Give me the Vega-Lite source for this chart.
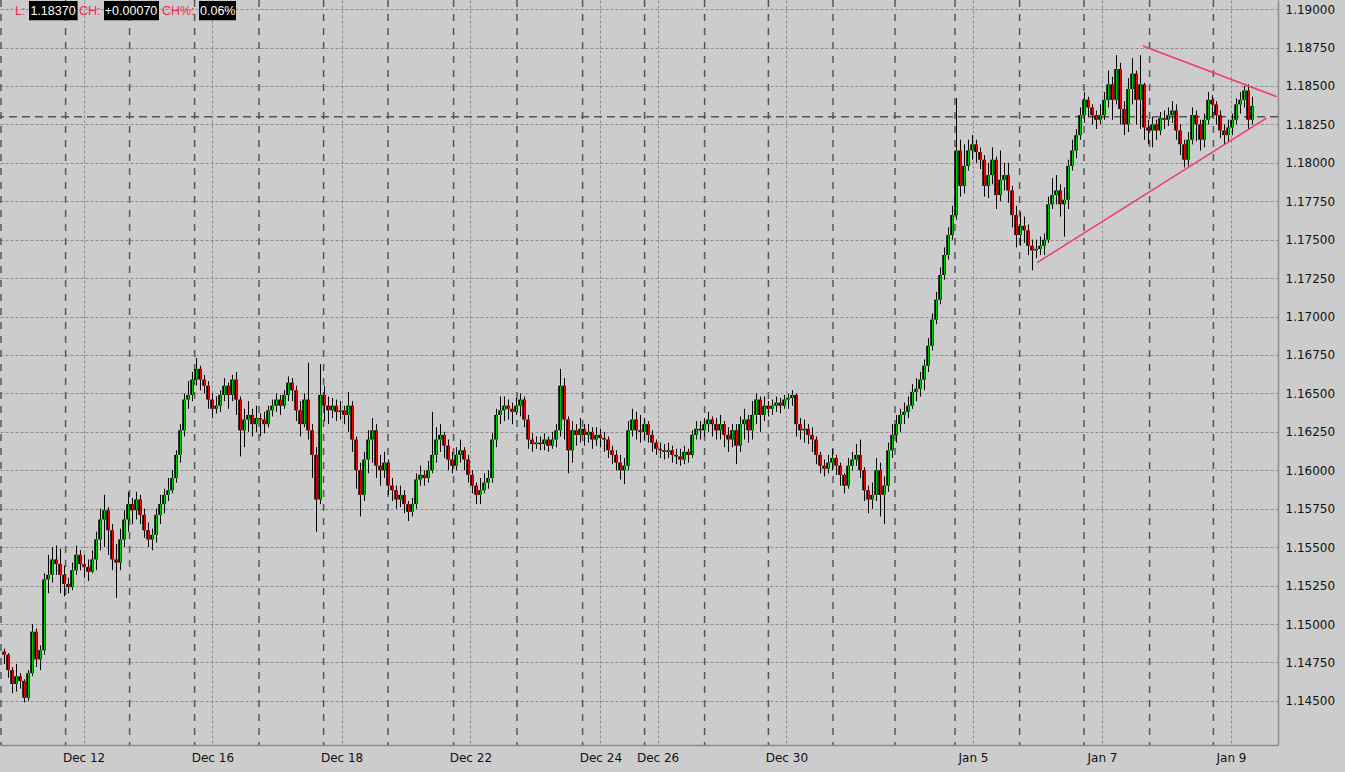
{
"$schema":"https://vega.github.io/schema/vega-lite/v6.json",
"width":1278,"height":745,
"autosize":{"type":"none"},
"padding":{"left":0,"top":0,"right":67,"bottom":27},
"background":"#cccccc",
"resolve":{"axis":{"x":"independent","y":"independent"}},
"config":{"view":{"stroke":null,"fill":"#cccccc"},"axis":{"labelFont":"DejaVu Sans","labelFontSize":12,"labelColor":"#111111","domainColor":"#8a8a8a","domainWidth":1.5,"gridColor":"#8c8c8c","gridDash":[3,2],"gridWidth":1,"ticks":false}},
"datasets":{
"vgrid":[{"i":0.25},{"i":16.4},{"i":32.4},{"i":48.65},{"i":64.75},{"i":80.9},{"i":97},{"i":113.4},{"i":129.25},{"i":145.65},{"i":161.15},{"i":176.15},{"i":192.1},{"i":208.25},{"i":223.75},{"i":238.75},{"i":254.9},{"i":271},{"i":287.4},{"i":303.35}],
"trend":[{"seg":"lo","i":259.25,"p":1.1735},{"seg":"lo","i":316.6,"p":1.1829},{"seg":"hi","i":285.75,"p":1.1876},{"seg":"hi","i":319.2,"p":1.1843}],
"bars":[
{"i":1,"o":1.1482,"h":1.1484,"l":1.1474,"c":1.1480},
{"i":2,"o":1.1480,"h":1.1481,"l":1.1465,"c":1.1470},
{"i":3,"o":1.1470,"h":1.1472,"l":1.1455,"c":1.1461},
{"i":4,"o":1.1461,"h":1.1474,"l":1.1456,"c":1.1466},
{"i":5,"o":1.1466,"h":1.1468,"l":1.1458,"c":1.1463},
{"i":6,"o":1.1463,"h":1.1464,"l":1.1449,"c":1.1452},
{"i":7,"o":1.1452,"h":1.1470,"l":1.1450,"c":1.1468},
{"i":8,"o":1.1468,"h":1.1500,"l":1.1466,"c":1.1495},
{"i":9,"o":1.1495,"h":1.1497,"l":1.1472,"c":1.1477},
{"i":10,"o":1.1477,"h":1.1486,"l":1.1470,"c":1.1483},
{"i":11,"o":1.1483,"h":1.1533,"l":1.1480,"c":1.1529},
{"i":12,"o":1.1529,"h":1.1545,"l":1.1520,"c":1.1532},
{"i":13,"o":1.1532,"h":1.1550,"l":1.1527,"c":1.1542},
{"i":14,"o":1.1542,"h":1.1551,"l":1.1532,"c":1.1539},
{"i":15,"o":1.1539,"h":1.1549,"l":1.1520,"c":1.1532},
{"i":16,"o":1.1532,"h":1.1538,"l":1.1518,"c":1.1526},
{"i":17,"o":1.1526,"h":1.1530,"l":1.1520,"c":1.1524},
{"i":18,"o":1.1524,"h":1.1540,"l":1.1522,"c":1.1535},
{"i":19,"o":1.1535,"h":1.1551,"l":1.1532,"c":1.1545},
{"i":20,"o":1.1545,"h":1.1548,"l":1.1535,"c":1.1539},
{"i":21,"o":1.1539,"h":1.1545,"l":1.1530,"c":1.1537},
{"i":22,"o":1.1537,"h":1.1542,"l":1.1528,"c":1.1534},
{"i":23,"o":1.1534,"h":1.1548,"l":1.1533,"c":1.1542},
{"i":24,"o":1.1542,"h":1.1560,"l":1.1535,"c":1.1555},
{"i":25,"o":1.1555,"h":1.1575,"l":1.1548,"c":1.1568},
{"i":26,"o":1.1568,"h":1.1584,"l":1.1550,"c":1.1574},
{"i":27,"o":1.1574,"h":1.1576,"l":1.1545,"c":1.1561},
{"i":28,"o":1.1561,"h":1.1565,"l":1.1535,"c":1.1542},
{"i":29,"o":1.1542,"h":1.1552,"l":1.1517,"c":1.1540},
{"i":30,"o":1.1540,"h":1.1562,"l":1.1535,"c":1.1555},
{"i":31,"o":1.1555,"h":1.1574,"l":1.1550,"c":1.1568},
{"i":32,"o":1.1568,"h":1.1586,"l":1.1560,"c":1.1578},
{"i":33,"o":1.1578,"h":1.1582,"l":1.1565,"c":1.1574},
{"i":34,"o":1.1574,"h":1.1586,"l":1.1568,"c":1.1581},
{"i":35,"o":1.1581,"h":1.1584,"l":1.1565,"c":1.1571},
{"i":36,"o":1.1571,"h":1.1575,"l":1.1556,"c":1.1561},
{"i":37,"o":1.1561,"h":1.1566,"l":1.1550,"c":1.1555},
{"i":38,"o":1.1555,"h":1.1562,"l":1.1548,"c":1.1558},
{"i":39,"o":1.1558,"h":1.1575,"l":1.1553,"c":1.1571},
{"i":40,"o":1.1571,"h":1.1584,"l":1.1565,"c":1.1578},
{"i":41,"o":1.1578,"h":1.1588,"l":1.1572,"c":1.1584},
{"i":42,"o":1.1584,"h":1.1595,"l":1.1580,"c":1.1587},
{"i":43,"o":1.1587,"h":1.1600,"l":1.1585,"c":1.1595},
{"i":44,"o":1.1595,"h":1.1613,"l":1.1592,"c":1.1610},
{"i":45,"o":1.1610,"h":1.1630,"l":1.1605,"c":1.1626},
{"i":46,"o":1.1626,"h":1.1650,"l":1.1622,"c":1.1646},
{"i":47,"o":1.1646,"h":1.1658,"l":1.1640,"c":1.1649},
{"i":48,"o":1.1649,"h":1.1664,"l":1.1645,"c":1.1659},
{"i":49,"o":1.1659,"h":1.1673,"l":1.1655,"c":1.1666},
{"i":50,"o":1.1666,"h":1.1668,"l":1.1652,"c":1.1659},
{"i":51,"o":1.1659,"h":1.1662,"l":1.1650,"c":1.1655},
{"i":52,"o":1.1655,"h":1.1658,"l":1.1640,"c":1.1646},
{"i":53,"o":1.1646,"h":1.1650,"l":1.1634,"c":1.1640},
{"i":54,"o":1.1640,"h":1.1648,"l":1.1637,"c":1.1642},
{"i":55,"o":1.1642,"h":1.1652,"l":1.1638,"c":1.1649},
{"i":56,"o":1.1649,"h":1.1660,"l":1.1645,"c":1.1655},
{"i":57,"o":1.1655,"h":1.1657,"l":1.1640,"c":1.1649},
{"i":58,"o":1.1649,"h":1.1662,"l":1.1645,"c":1.1659},
{"i":59,"o":1.1659,"h":1.1664,"l":1.1636,"c":1.1646},
{"i":60,"o":1.1646,"h":1.1648,"l":1.1609,"c":1.1626},
{"i":61,"o":1.1626,"h":1.1640,"l":1.1615,"c":1.1633},
{"i":62,"o":1.1633,"h":1.1645,"l":1.1625,"c":1.1636},
{"i":63,"o":1.1636,"h":1.1640,"l":1.1622,"c":1.1630},
{"i":64,"o":1.1630,"h":1.1642,"l":1.1625,"c":1.1634},
{"i":65,"o":1.1634,"h":1.1637,"l":1.1622,"c":1.1633},
{"i":66,"o":1.1633,"h":1.1638,"l":1.1624,"c":1.1630},
{"i":67,"o":1.1630,"h":1.1642,"l":1.1628,"c":1.1639},
{"i":68,"o":1.1639,"h":1.1646,"l":1.1635,"c":1.1642},
{"i":69,"o":1.1642,"h":1.1650,"l":1.1638,"c":1.1646},
{"i":70,"o":1.1646,"h":1.1649,"l":1.1636,"c":1.1642},
{"i":71,"o":1.1642,"h":1.1652,"l":1.1640,"c":1.1649},
{"i":72,"o":1.1649,"h":1.1661,"l":1.1645,"c":1.1657},
{"i":73,"o":1.1657,"h":1.1660,"l":1.1645,"c":1.1652},
{"i":74,"o":1.1652,"h":1.1655,"l":1.1632,"c":1.1639},
{"i":75,"o":1.1639,"h":1.1645,"l":1.1622,"c":1.1630},
{"i":76,"o":1.1630,"h":1.1650,"l":1.1628,"c":1.1646},
{"i":77,"o":1.1646,"h":1.1670,"l":1.1620,"c":1.1626},
{"i":78,"o":1.1626,"h":1.1630,"l":1.1595,"c":1.1610},
{"i":79,"o":1.1610,"h":1.1615,"l":1.1560,"c":1.1581},
{"i":80,"o":1.1581,"h":1.1669,"l":1.1578,"c":1.1649},
{"i":81,"o":1.1649,"h":1.1655,"l":1.1632,"c":1.1642},
{"i":82,"o":1.1642,"h":1.1648,"l":1.1630,"c":1.1639},
{"i":83,"o":1.1639,"h":1.1647,"l":1.1634,"c":1.1642},
{"i":84,"o":1.1642,"h":1.1646,"l":1.1632,"c":1.1638},
{"i":85,"o":1.1638,"h":1.1645,"l":1.1633,"c":1.1639},
{"i":86,"o":1.1639,"h":1.1642,"l":1.1630,"c":1.1636},
{"i":87,"o":1.1636,"h":1.1651,"l":1.1625,"c":1.1642},
{"i":88,"o":1.1642,"h":1.1645,"l":1.1612,"c":1.1620},
{"i":89,"o":1.1620,"h":1.1622,"l":1.1588,"c":1.1600},
{"i":90,"o":1.1600,"h":1.1605,"l":1.1570,"c":1.1584},
{"i":91,"o":1.1584,"h":1.1612,"l":1.1580,"c":1.1607},
{"i":92,"o":1.1607,"h":1.1626,"l":1.1598,"c":1.1620},
{"i":93,"o":1.1620,"h":1.1634,"l":1.1605,"c":1.1626},
{"i":94,"o":1.1626,"h":1.1630,"l":1.1595,"c":1.1603},
{"i":95,"o":1.1603,"h":1.1610,"l":1.1590,"c":1.1600},
{"i":96,"o":1.1600,"h":1.1612,"l":1.1595,"c":1.1605},
{"i":97,"o":1.1605,"h":1.1607,"l":1.1584,"c":1.1590},
{"i":98,"o":1.1590,"h":1.1595,"l":1.1580,"c":1.1587},
{"i":99,"o":1.1587,"h":1.1590,"l":1.1575,"c":1.1581},
{"i":100,"o":1.1581,"h":1.1590,"l":1.1576,"c":1.1584},
{"i":101,"o":1.1584,"h":1.1587,"l":1.1572,"c":1.1578},
{"i":102,"o":1.1578,"h":1.1580,"l":1.1567,"c":1.1573},
{"i":103,"o":1.1573,"h":1.1582,"l":1.1570,"c":1.1578},
{"i":104,"o":1.1578,"h":1.1598,"l":1.1575,"c":1.1594},
{"i":105,"o":1.1594,"h":1.1603,"l":1.1590,"c":1.1597},
{"i":106,"o":1.1597,"h":1.1600,"l":1.1590,"c":1.1595},
{"i":107,"o":1.1595,"h":1.1606,"l":1.1592,"c":1.1600},
{"i":108,"o":1.1600,"h":1.1638,"l":1.1598,"c":1.1610},
{"i":109,"o":1.1610,"h":1.1628,"l":1.1605,"c":1.1620},
{"i":110,"o":1.1620,"h":1.1630,"l":1.1612,"c":1.1623},
{"i":111,"o":1.1623,"h":1.1625,"l":1.1608,"c":1.1616},
{"i":112,"o":1.1616,"h":1.1620,"l":1.1600,"c":1.1607},
{"i":113,"o":1.1607,"h":1.1612,"l":1.1598,"c":1.1603},
{"i":114,"o":1.1603,"h":1.1615,"l":1.1600,"c":1.1610},
{"i":115,"o":1.1610,"h":1.1620,"l":1.1605,"c":1.1613},
{"i":116,"o":1.1613,"h":1.1615,"l":1.1600,"c":1.1607},
{"i":117,"o":1.1607,"h":1.1610,"l":1.1592,"c":1.1597},
{"i":118,"o":1.1597,"h":1.1600,"l":1.1585,"c":1.1590},
{"i":119,"o":1.1590,"h":1.1592,"l":1.1578,"c":1.1584},
{"i":120,"o":1.1584,"h":1.1595,"l":1.1578,"c":1.1587},
{"i":121,"o":1.1587,"h":1.1598,"l":1.1585,"c":1.1592},
{"i":122,"o":1.1592,"h":1.1600,"l":1.1588,"c":1.1595},
{"i":123,"o":1.1595,"h":1.1624,"l":1.1592,"c":1.1620},
{"i":124,"o":1.1620,"h":1.1640,"l":1.1615,"c":1.1636},
{"i":125,"o":1.1636,"h":1.1648,"l":1.1630,"c":1.1639},
{"i":126,"o":1.1639,"h":1.1648,"l":1.1632,"c":1.1642},
{"i":127,"o":1.1642,"h":1.1646,"l":1.1633,"c":1.1640},
{"i":128,"o":1.1640,"h":1.1644,"l":1.1630,"c":1.1638},
{"i":129,"o":1.1638,"h":1.1647,"l":1.1636,"c":1.1642},
{"i":130,"o":1.1642,"h":1.1650,"l":1.1635,"c":1.1646},
{"i":131,"o":1.1646,"h":1.1648,"l":1.1628,"c":1.1633},
{"i":132,"o":1.1633,"h":1.1636,"l":1.1614,"c":1.1620},
{"i":133,"o":1.1620,"h":1.1624,"l":1.1612,"c":1.1617},
{"i":134,"o":1.1617,"h":1.1622,"l":1.1614,"c":1.1618},
{"i":135,"o":1.1618,"h":1.1622,"l":1.1613,"c":1.1617},
{"i":136,"o":1.1617,"h":1.1624,"l":1.1613,"c":1.1620},
{"i":137,"o":1.1620,"h":1.1622,"l":1.1612,"c":1.1616},
{"i":138,"o":1.1616,"h":1.1625,"l":1.1614,"c":1.1620},
{"i":139,"o":1.1620,"h":1.1630,"l":1.1615,"c":1.1626},
{"i":140,"o":1.1626,"h":1.1666,"l":1.1622,"c":1.1655},
{"i":141,"o":1.1655,"h":1.1660,"l":1.1620,"c":1.1633},
{"i":142,"o":1.1633,"h":1.1635,"l":1.1598,"c":1.1613},
{"i":143,"o":1.1613,"h":1.1632,"l":1.1605,"c":1.1626},
{"i":144,"o":1.1626,"h":1.1630,"l":1.1616,"c":1.1623},
{"i":145,"o":1.1623,"h":1.1634,"l":1.1618,"c":1.1627},
{"i":146,"o":1.1627,"h":1.1630,"l":1.1616,"c":1.1623},
{"i":147,"o":1.1623,"h":1.1630,"l":1.1618,"c":1.1625},
{"i":148,"o":1.1625,"h":1.1628,"l":1.1614,"c":1.1620},
{"i":149,"o":1.1620,"h":1.1628,"l":1.1616,"c":1.1623},
{"i":150,"o":1.1623,"h":1.1627,"l":1.1615,"c":1.1621},
{"i":151,"o":1.1621,"h":1.1625,"l":1.1612,"c":1.1620},
{"i":152,"o":1.1620,"h":1.1622,"l":1.1608,"c":1.1613},
{"i":153,"o":1.1613,"h":1.1616,"l":1.1604,"c":1.1610},
{"i":154,"o":1.1610,"h":1.1613,"l":1.1600,"c":1.1605},
{"i":155,"o":1.1605,"h":1.1610,"l":1.1594,"c":1.1600},
{"i":156,"o":1.1600,"h":1.1608,"l":1.1591,"c":1.1603},
{"i":157,"o":1.1603,"h":1.1632,"l":1.1600,"c":1.1626},
{"i":158,"o":1.1626,"h":1.1640,"l":1.1622,"c":1.1633},
{"i":159,"o":1.1633,"h":1.1638,"l":1.1620,"c":1.1626},
{"i":160,"o":1.1626,"h":1.1636,"l":1.1618,"c":1.1625},
{"i":161,"o":1.1625,"h":1.1634,"l":1.1620,"c":1.1630},
{"i":162,"o":1.1630,"h":1.1632,"l":1.1618,"c":1.1623},
{"i":163,"o":1.1623,"h":1.1626,"l":1.1612,"c":1.1618},
{"i":164,"o":1.1618,"h":1.1620,"l":1.1610,"c":1.1614},
{"i":165,"o":1.1614,"h":1.1618,"l":1.1608,"c":1.1613},
{"i":166,"o":1.1613,"h":1.1617,"l":1.1607,"c":1.1612},
{"i":167,"o":1.1612,"h":1.1618,"l":1.1608,"c":1.1613},
{"i":168,"o":1.1613,"h":1.1616,"l":1.1605,"c":1.1610},
{"i":169,"o":1.1610,"h":1.1614,"l":1.1604,"c":1.1609},
{"i":170,"o":1.1609,"h":1.1614,"l":1.1603,"c":1.1607},
{"i":171,"o":1.1607,"h":1.1616,"l":1.1604,"c":1.1612},
{"i":172,"o":1.1612,"h":1.1614,"l":1.1605,"c":1.1610},
{"i":173,"o":1.1610,"h":1.1626,"l":1.1608,"c":1.1623},
{"i":174,"o":1.1623,"h":1.1632,"l":1.1620,"c":1.1627},
{"i":175,"o":1.1627,"h":1.1632,"l":1.1620,"c":1.1626},
{"i":176,"o":1.1626,"h":1.1634,"l":1.1622,"c":1.1630},
{"i":177,"o":1.1630,"h":1.1638,"l":1.1625,"c":1.1633},
{"i":178,"o":1.1633,"h":1.1635,"l":1.1622,"c":1.1630},
{"i":179,"o":1.1630,"h":1.1634,"l":1.1620,"c":1.1626},
{"i":180,"o":1.1626,"h":1.1636,"l":1.1620,"c":1.1630},
{"i":181,"o":1.1630,"h":1.1632,"l":1.1615,"c":1.1623},
{"i":182,"o":1.1623,"h":1.1628,"l":1.1612,"c":1.1620},
{"i":183,"o":1.1620,"h":1.1630,"l":1.1615,"c":1.1626},
{"i":184,"o":1.1626,"h":1.1630,"l":1.1604,"c":1.1616},
{"i":185,"o":1.1616,"h":1.1635,"l":1.1612,"c":1.1630},
{"i":186,"o":1.1630,"h":1.1640,"l":1.1620,"c":1.1633},
{"i":187,"o":1.1633,"h":1.1636,"l":1.1618,"c":1.1626},
{"i":188,"o":1.1626,"h":1.1645,"l":1.1620,"c":1.1636},
{"i":189,"o":1.1636,"h":1.1650,"l":1.1630,"c":1.1646},
{"i":190,"o":1.1646,"h":1.1648,"l":1.1625,"c":1.1636},
{"i":191,"o":1.1636,"h":1.1648,"l":1.1632,"c":1.1642},
{"i":192,"o":1.1642,"h":1.1645,"l":1.1635,"c":1.1640},
{"i":193,"o":1.1640,"h":1.1646,"l":1.1636,"c":1.1642},
{"i":194,"o":1.1642,"h":1.1648,"l":1.1638,"c":1.1644},
{"i":195,"o":1.1644,"h":1.1647,"l":1.1637,"c":1.1642},
{"i":196,"o":1.1642,"h":1.1649,"l":1.1640,"c":1.1646},
{"i":197,"o":1.1646,"h":1.1650,"l":1.1640,"c":1.1647},
{"i":198,"o":1.1647,"h":1.1652,"l":1.1642,"c":1.1649},
{"i":199,"o":1.1649,"h":1.1650,"l":1.1622,"c":1.1630},
{"i":200,"o":1.1630,"h":1.1634,"l":1.1620,"c":1.1626},
{"i":201,"o":1.1626,"h":1.1633,"l":1.1618,"c":1.1627},
{"i":202,"o":1.1627,"h":1.1630,"l":1.1617,"c":1.1623},
{"i":203,"o":1.1623,"h":1.1628,"l":1.1612,"c":1.1620},
{"i":204,"o":1.1620,"h":1.1622,"l":1.1604,"c":1.1610},
{"i":205,"o":1.1610,"h":1.1612,"l":1.1598,"c":1.1603},
{"i":206,"o":1.1603,"h":1.1607,"l":1.1596,"c":1.1601},
{"i":207,"o":1.1601,"h":1.1610,"l":1.1598,"c":1.1605},
{"i":208,"o":1.1605,"h":1.1614,"l":1.1600,"c":1.1608},
{"i":209,"o":1.1608,"h":1.1610,"l":1.1597,"c":1.1603},
{"i":210,"o":1.1603,"h":1.1605,"l":1.1590,"c":1.1597},
{"i":211,"o":1.1597,"h":1.1598,"l":1.1585,"c":1.1590},
{"i":212,"o":1.1590,"h":1.1608,"l":1.1588,"c":1.1603},
{"i":213,"o":1.1603,"h":1.1612,"l":1.1600,"c":1.1607},
{"i":214,"o":1.1607,"h":1.1617,"l":1.1603,"c":1.1610},
{"i":215,"o":1.1610,"h":1.1620,"l":1.1595,"c":1.1600},
{"i":216,"o":1.1600,"h":1.1602,"l":1.1580,"c":1.1587},
{"i":217,"o":1.1587,"h":1.1590,"l":1.1572,"c":1.1581},
{"i":218,"o":1.1581,"h":1.1592,"l":1.1575,"c":1.1584},
{"i":219,"o":1.1584,"h":1.1608,"l":1.1580,"c":1.1600},
{"i":220,"o":1.1600,"h":1.1605,"l":1.1570,"c":1.1584},
{"i":221,"o":1.1584,"h":1.1596,"l":1.1565,"c":1.1590},
{"i":222,"o":1.1590,"h":1.1618,"l":1.1586,"c":1.1613},
{"i":223,"o":1.1613,"h":1.1630,"l":1.1608,"c":1.1623},
{"i":224,"o":1.1623,"h":1.1636,"l":1.1618,"c":1.1630},
{"i":225,"o":1.1630,"h":1.1640,"l":1.1625,"c":1.1636},
{"i":226,"o":1.1636,"h":1.1644,"l":1.1630,"c":1.1638},
{"i":227,"o":1.1638,"h":1.1648,"l":1.1634,"c":1.1642},
{"i":228,"o":1.1642,"h":1.1656,"l":1.1640,"c":1.1651},
{"i":229,"o":1.1651,"h":1.1660,"l":1.1645,"c":1.1653},
{"i":230,"o":1.1653,"h":1.1664,"l":1.1648,"c":1.1659},
{"i":231,"o":1.1659,"h":1.1672,"l":1.1652,"c":1.1668},
{"i":232,"o":1.1668,"h":1.1686,"l":1.1664,"c":1.1681},
{"i":233,"o":1.1681,"h":1.1702,"l":1.1678,"c":1.1698},
{"i":234,"o":1.1698,"h":1.1716,"l":1.1695,"c":1.1711},
{"i":235,"o":1.1711,"h":1.1732,"l":1.1708,"c":1.1727},
{"i":236,"o":1.1727,"h":1.1745,"l":1.1724,"c":1.1740},
{"i":237,"o":1.1740,"h":1.1758,"l":1.1737,"c":1.1753},
{"i":238,"o":1.1753,"h":1.1772,"l":1.1750,"c":1.1766},
{"i":239,"o":1.1766,"h":1.1842,"l":1.1763,"c":1.1808},
{"i":240,"o":1.1808,"h":1.1815,"l":1.1778,"c":1.1785},
{"i":241,"o":1.1785,"h":1.1812,"l":1.1780,"c":1.1798},
{"i":242,"o":1.1798,"h":1.1815,"l":1.1795,"c":1.1808},
{"i":243,"o":1.1808,"h":1.1818,"l":1.1802,"c":1.1812},
{"i":244,"o":1.1812,"h":1.1815,"l":1.1800,"c":1.1807},
{"i":245,"o":1.1807,"h":1.1810,"l":1.1796,"c":1.1802},
{"i":246,"o":1.1802,"h":1.1805,"l":1.1778,"c":1.1785},
{"i":247,"o":1.1785,"h":1.1800,"l":1.1777,"c":1.1792},
{"i":248,"o":1.1792,"h":1.1810,"l":1.1786,"c":1.1802},
{"i":249,"o":1.1802,"h":1.1804,"l":1.1770,"c":1.1779},
{"i":250,"o":1.1779,"h":1.1808,"l":1.1775,"c":1.1789},
{"i":251,"o":1.1789,"h":1.1800,"l":1.1782,"c":1.1792},
{"i":252,"o":1.1792,"h":1.1800,"l":1.1774,"c":1.1782},
{"i":253,"o":1.1782,"h":1.1785,"l":1.1758,"c":1.1766},
{"i":254,"o":1.1766,"h":1.1772,"l":1.1745,"c":1.1753},
{"i":255,"o":1.1753,"h":1.1768,"l":1.1746,"c":1.1759},
{"i":256,"o":1.1759,"h":1.1765,"l":1.1748,"c":1.1756},
{"i":257,"o":1.1756,"h":1.1760,"l":1.1740,"c":1.1746},
{"i":258,"o":1.1746,"h":1.1750,"l":1.1730,"c":1.1743},
{"i":259,"o":1.1743,"h":1.1750,"l":1.1738,"c":1.1744},
{"i":260,"o":1.1744,"h":1.1752,"l":1.1740,"c":1.1746},
{"i":261,"o":1.1746,"h":1.1754,"l":1.1740,"c":1.1750},
{"i":262,"o":1.1750,"h":1.1778,"l":1.1748,"c":1.1773},
{"i":263,"o":1.1773,"h":1.1790,"l":1.1770,"c":1.1779},
{"i":264,"o":1.1779,"h":1.1792,"l":1.1773,"c":1.1782},
{"i":265,"o":1.1782,"h":1.1786,"l":1.1765,"c":1.1773},
{"i":266,"o":1.1773,"h":1.1784,"l":1.1752,"c":1.1776},
{"i":267,"o":1.1776,"h":1.1802,"l":1.1770,"c":1.1798},
{"i":268,"o":1.1798,"h":1.1815,"l":1.1795,"c":1.1808},
{"i":269,"o":1.1808,"h":1.1822,"l":1.1803,"c":1.1818},
{"i":270,"o":1.1818,"h":1.1836,"l":1.1815,"c":1.1831},
{"i":271,"o":1.1831,"h":1.1846,"l":1.1826,"c":1.1841},
{"i":272,"o":1.1841,"h":1.1843,"l":1.1830,"c":1.1836},
{"i":273,"o":1.1836,"h":1.1838,"l":1.1825,"c":1.1831},
{"i":274,"o":1.1831,"h":1.1834,"l":1.1822,"c":1.1828},
{"i":275,"o":1.1828,"h":1.1838,"l":1.1825,"c":1.1831},
{"i":276,"o":1.1831,"h":1.1846,"l":1.1828,"c":1.1841},
{"i":277,"o":1.1841,"h":1.1860,"l":1.1836,"c":1.1851},
{"i":278,"o":1.1851,"h":1.1856,"l":1.1828,"c":1.1841},
{"i":279,"o":1.1841,"h":1.1870,"l":1.1838,"c":1.1861},
{"i":280,"o":1.1861,"h":1.1865,"l":1.1825,"c":1.1835},
{"i":281,"o":1.1835,"h":1.1840,"l":1.1818,"c":1.1825},
{"i":282,"o":1.1825,"h":1.1855,"l":1.1820,"c":1.1848},
{"i":283,"o":1.1848,"h":1.1868,"l":1.1838,"c":1.1858},
{"i":284,"o":1.1858,"h":1.1860,"l":1.1825,"c":1.1841},
{"i":285,"o":1.1841,"h":1.1870,"l":1.1822,"c":1.1851},
{"i":286,"o":1.1851,"h":1.1852,"l":1.1815,"c":1.1823},
{"i":287,"o":1.1823,"h":1.1828,"l":1.1812,"c":1.1821},
{"i":288,"o":1.1821,"h":1.1830,"l":1.1810,"c":1.1825},
{"i":289,"o":1.1825,"h":1.1828,"l":1.1815,"c":1.1821},
{"i":290,"o":1.1821,"h":1.1833,"l":1.1818,"c":1.1829},
{"i":291,"o":1.1829,"h":1.1834,"l":1.1822,"c":1.1828},
{"i":292,"o":1.1828,"h":1.1836,"l":1.1824,"c":1.1831},
{"i":293,"o":1.1831,"h":1.1840,"l":1.1826,"c":1.1834},
{"i":294,"o":1.1834,"h":1.1838,"l":1.1815,"c":1.1821},
{"i":295,"o":1.1821,"h":1.1825,"l":1.1805,"c":1.1812},
{"i":296,"o":1.1812,"h":1.1815,"l":1.1797,"c":1.1802},
{"i":297,"o":1.1802,"h":1.1820,"l":1.1798,"c":1.1815},
{"i":298,"o":1.1815,"h":1.1836,"l":1.1812,"c":1.1831},
{"i":299,"o":1.1831,"h":1.1834,"l":1.1814,"c":1.1825},
{"i":300,"o":1.1825,"h":1.1828,"l":1.1808,"c":1.1815},
{"i":301,"o":1.1815,"h":1.1832,"l":1.1810,"c":1.1828},
{"i":302,"o":1.1828,"h":1.1846,"l":1.1825,"c":1.1841},
{"i":303,"o":1.1841,"h":1.1844,"l":1.1830,"c":1.1838},
{"i":304,"o":1.1838,"h":1.1840,"l":1.1825,"c":1.1831},
{"i":305,"o":1.1831,"h":1.1834,"l":1.1816,"c":1.1821},
{"i":306,"o":1.1821,"h":1.1825,"l":1.1812,"c":1.1818},
{"i":307,"o":1.1818,"h":1.1828,"l":1.1814,"c":1.1823},
{"i":308,"o":1.1823,"h":1.1832,"l":1.1818,"c":1.1828},
{"i":309,"o":1.1828,"h":1.1842,"l":1.1825,"c":1.1838},
{"i":310,"o":1.1838,"h":1.1846,"l":1.1832,"c":1.1841},
{"i":311,"o":1.1841,"h":1.1850,"l":1.1836,"c":1.1847},
{"i":312,"o":1.1847,"h":1.1851,"l":1.1822,"c":1.1828},
{"i":313,"o":1.1828,"h":1.1843,"l":1.1825,"c":1.1837}
]},
"layer":[
{"data":{"name":"vgrid"},"mark":{"type":"rule","color":"#555555","strokeWidth":1.5,"strokeDash":[7,7]},
 "encoding":{"x":{"field":"i","type":"quantitative","scale":{"domain":[0,319.5],"nice":false,"zero":false,"padding":0},"axis":null}}},
{"data":{"values":[{"lvl":1.183}]},"mark":{"type":"rule","color":"#555555","strokeWidth":1.5,"strokeDash":[8,5]},
 "encoding":{"y":{"field":"lvl","type":"quantitative","scale":{"domain":[1.14213,1.19059],"nice":false,"zero":false},"axis":null}}},
{"data":{"name":"bars"},"mark":{"type":"rule","color":"#000000","strokeWidth":1,"xOffset":0.5},
 "encoding":{
  "x":{"field":"i","type":"quantitative","scale":{"domain":[0,319.5],"nice":false,"zero":false,"padding":0},
   "axis":{"orient":"bottom","title":null,"values":[20.9,53.1,85.4,117.6,150.1,164.4,196.6,243.25,275.5,307.75],
    "labelExpr":"{'20.9':'Dec 12','53.1':'Dec 16','85.4':'Dec 18','117.6':'Dec 22','150.1':'Dec 24','164.4':'Dec 26','196.6':'Dec 30','243.25':'Jan 5','275.5':'Jan 7','307.75':'Jan 9'}[datum.value]",
    "grid":true,"ticks":false,"labelPadding":7,"labelOverlap":false,"labelFlush":false}},
  "y":{"field":"l","type":"quantitative","scale":{"domain":[1.14213,1.19059],"nice":false,"zero":false},
   "axis":{"orient":"right","title":null,"values":[1.145,1.1475,1.15,1.1525,1.155,1.1575,1.16,1.1625,1.165,1.1675,1.17,1.1725,1.175,1.1775,1.18,1.1825,1.185,1.1875,1.19],
    "format":".5f","grid":true,"ticks":false,"labelPadding":7,"labelOverlap":false,"labelFlush":false}},
  "y2":{"field":"h"}}},
{"data":{"name":"bars"},"mark":{"type":"bar","width":3.5,"color":"#000000"},
 "encoding":{
  "x":{"field":"i","type":"quantitative","scale":{"domain":[0,319.5],"nice":false,"zero":false,"padding":0},"axis":null},
  "y":{"field":"o","type":"quantitative","scale":{"domain":[1.14213,1.19059],"nice":false,"zero":false},"axis":null},
  "y2":{"field":"c"}}},
{"data":{"name":"bars"},"mark":{"type":"rule","strokeWidth":1,"xOffset":0.5},
 "encoding":{
  "x":{"field":"i","type":"quantitative","scale":{"domain":[0,319.5],"nice":false,"zero":false,"padding":0},"axis":null},
  "y":{"field":"o","type":"quantitative","scale":{"domain":[1.14213,1.19059],"nice":false,"zero":false},"axis":null},
  "y2":{"field":"c"},
  "color":{"condition":{"test":"datum.c >= datum.o","value":"#00c800"},"value":"#f00000"}}},
{"data":{"name":"trend"},"mark":{"type":"line","color":"#f03c6a","strokeWidth":1.5},
 "encoding":{
  "x":{"field":"i","type":"quantitative","scale":{"domain":[0,319.5],"nice":false,"zero":false,"padding":0},"axis":null},
  "y":{"field":"p","type":"quantitative","scale":{"domain":[1.14213,1.19059],"nice":false,"zero":false},"axis":null},
  "detail":{"field":"seg"}}},
{"data":{"values":[{"t":"x"}]},"mark":{"type":"rect","color":"#000000"},
 "encoding":{"x":{"datum":7.25,"type":"quantitative","axis":null},"x2":{"datum":19.4},"y":{"datum":1.19052,"type":"quantitative","axis":null},"y2":{"datum":1.18928}}},
{"data":{"values":[{"t":"x"}]},"mark":{"type":"rect","color":"#000000"},
 "encoding":{"x":{"datum":26,"type":"quantitative","axis":null},"x2":{"datum":39.75},"y":{"datum":1.19052,"type":"quantitative","axis":null},"y2":{"datum":1.18928}}},
{"data":{"values":[{"t":"x"}]},"mark":{"type":"rect","color":"#000000"},
 "encoding":{"x":{"datum":49.75,"type":"quantitative","axis":null},"x2":{"datum":59},"y":{"datum":1.19052,"type":"quantitative","axis":null},"y2":{"datum":1.18928}}},
{"data":{"values":[{"t":"L:"}]},"mark":{"type":"text","align":"left","baseline":"middle","font":"Liberation Sans","fontSize":12.5,"color":"#ee2a55"},
 "encoding":{"x":{"datum":3.75,"type":"quantitative","axis":null},"y":{"datum":1.18987,"type":"quantitative","axis":null},"text":{"field":"t"}}},
{"data":{"values":[{"t":"1.18370"}]},"mark":{"type":"text","align":"left","baseline":"middle","font":"Liberation Sans","fontSize":12.5,"color":"#ffffff"},
 "encoding":{"x":{"datum":7.6,"type":"quantitative","axis":null},"y":{"datum":1.18987,"type":"quantitative","axis":null},"text":{"field":"t"}}},
{"data":{"values":[{"t":"CH:"}]},"mark":{"type":"text","align":"left","baseline":"middle","font":"Liberation Sans","fontSize":12.5,"color":"#ee2a55"},
 "encoding":{"x":{"datum":19.75,"type":"quantitative","axis":null},"y":{"datum":1.18987,"type":"quantitative","axis":null},"text":{"field":"t"}}},
{"data":{"values":[{"t":"+0.00070"}]},"mark":{"type":"text","align":"left","baseline":"middle","font":"Liberation Sans","fontSize":12.5,"color":"#ffffff"},
 "encoding":{"x":{"datum":26.2,"type":"quantitative","axis":null},"y":{"datum":1.18987,"type":"quantitative","axis":null},"text":{"field":"t"}}},
{"data":{"values":[{"t":"CH%:"}]},"mark":{"type":"text","align":"left","baseline":"middle","font":"Liberation Sans","fontSize":12.5,"color":"#ee2a55"},
 "encoding":{"x":{"datum":40.5,"type":"quantitative","axis":null},"y":{"datum":1.18987,"type":"quantitative","axis":null},"text":{"field":"t"}}},
{"data":{"values":[{"t":"0.06%"}]},"mark":{"type":"text","align":"left","baseline":"middle","font":"Liberation Sans","fontSize":12.5,"color":"#ffffff"},
 "encoding":{"x":{"datum":50,"type":"quantitative","axis":null},"y":{"datum":1.18987,"type":"quantitative","axis":null},"text":{"field":"t"}}}
]
}
